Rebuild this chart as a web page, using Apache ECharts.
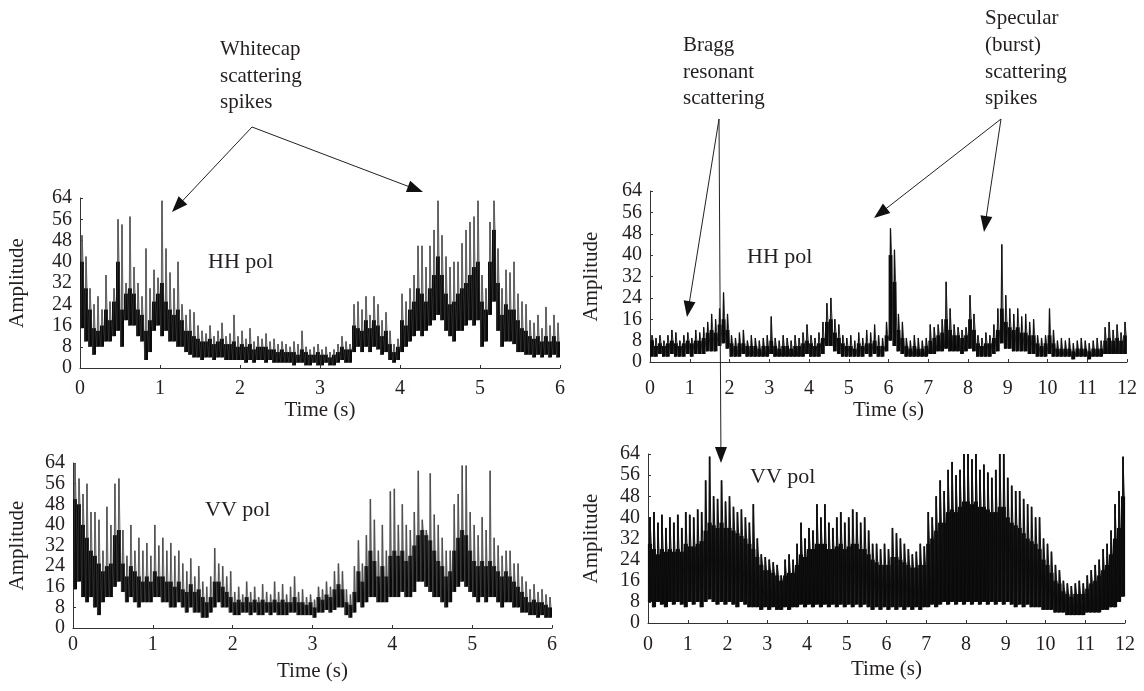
<!DOCTYPE html>
<html><head><meta charset="utf-8">
<script src="https://cdn.jsdelivr.net/npm/echarts@6/dist/echarts.min.js"></script>
<style>html,body{margin:0;padding:0;background:#fff}#c{width:1144px;height:691px}</style>
</head><body><div id="c"></div>
<script>
// ---- data ----
// Left panels: 0..6 s sampled every 0.05 s; right panels: 0..12 s every 0.1 s
const yTicks = [0, 8, 16, 24, 32, 40, 48, 56, 64];
const panelTitles = ['HH pol', 'VV pol', 'HH pol', 'VV pol'];

const hhLeftHi = [50,42,30,24,27,22,35,25,30,56, 54,32,57,38,32,27,45,30,37,34, 63,45,36,30,40,24,20,22,21,16,
  14,13,16,12,14,17,12,13,20,12, 14,11,15,10,12,11,13,10,11,9, 10,9,8,10,9,14,8,7,8,9,
  7,8,6,7,9,12,10,9,24,25, 22,27,20,27,24,18,21,14,9,11, 28,25,30,35,46,46,38,46,52,63,
  50,42,38,40,40,47,52,55,57,63, 35,30,55,63,45,30,37,36,40,28, 25,24,18,17,20,15,23,16,20,17];
const hhLeftCore = [40,30,22,15,14,16,22,18,25,40, 22,28,30,28,22,20,14,18,25,28, 32,25,22,20,22,18,14,14,12,11,
  10,10,11,9,10,11,9,9,10,8, 9,8,9,7,8,8,8,7,7,6, 7,6,6,6,5,7,6,5,5,6,
  5,5,4,5,6,8,7,7,16,15, 14,18,15,18,16,12,14,9,6,8, 18,16,22,25,30,28,25,30,35,42,
  35,28,24,25,28,30,32,35,38,40, 25,22,40,52,32,20,24,22,22,18, 15,14,12,11,12,10,12,10,12,10];
const hhLeftLo = [15,10,8,5,8,8,10,10,12,14, 8,18,16,16,12,10,3,6,14,16, 12,14,10,10,8,8,6,5,4,4,
  3,4,4,3,4,4,3,3,3,3, 3,2,3,2,3,3,2,3,2,2, 2,2,2,1,2,2,1,1,2,1,
  1,2,1,1,2,3,2,2,6,8, 6,8,6,8,7,5,6,3,2,3, 6,8,10,12,14,12,14,16,18,20,
  18,14,12,10,14,14,16,18,16,18, 8,10,20,25,14,8,10,10,9,6, 6,5,5,4,5,4,5,4,5,4];

const vvLeftHi = [64,58,52,56,45,45,42,30,47,40, 56,58,38,28,40,30,35,30,33,28, 40,32,35,30,33,28,30,25,22,27,
  20,24,18,16,20,31,25,24,20,22, 14,16,13,18,14,16,12,17,14,13, 18,14,17,13,16,20,14,15,12,13,
  11,16,15,18,16,22,25,22,15,13, 24,34,25,36,50,42,30,40,30,53, 54,40,48,40,38,45,61,42,38,60,
  44,40,35,30,30,48,52,63,63,45, 40,36,43,38,61,35,32,28,30,30, 25,25,20,18,15,17,14,15,13,12];
const vvLeftCore = [50,48,40,35,30,28,25,22,24,25, 36,38,25,20,24,22,20,18,20,18, 22,20,20,18,18,16,18,15,14,17,
  14,15,12,10,12,18,18,16,14,12, 10,11,10,12,10,11,10,11,10,10, 11,10,11,10,10,12,10,10,9,10,
  8,12,11,13,12,15,17,15,10,9, 14,22,18,24,30,26,20,24,20,28, 30,28,30,26,28,32,36,38,36,34,
  30,26,24,20,22,30,35,38,36,30, 26,24,26,24,26,24,22,20,22,20, 18,16,14,12,10,11,10,10,9,8];
const vvLeftLo = [15,18,12,10,12,8,5,10,12,12, 16,18,14,10,12,10,8,10,10,10, 12,12,10,10,8,8,10,8,6,8,
  6,6,4,4,6,8,10,8,8,6, 5,5,6,6,5,6,5,5,6,5, 6,5,5,5,6,6,5,5,5,5,
  4,6,6,7,6,7,8,8,5,4, 6,10,8,10,12,12,10,10,10,12, 12,12,14,12,12,14,18,18,16,14,
  12,12,10,8,10,14,16,18,16,14, 12,10,12,10,12,12,10,8,10,10, 8,8,6,6,5,5,4,5,4,4];

const hhRightHi = [10,9,10,8,10,12,11,8,10,11, 9,12,11,13,15,18,16,20,26,18, 10,9,11,12,8,10,9,8,9,10,
  17,9,8,10,9,8,10,9,11,14, 10,9,11,15,22,24,16,14,10,9, 10,8,11,9,12,11,14,10,9,15,
  50,42,18,15,9,8,10,9,8,9, 14,13,14,16,30,20,14,13,12,13, 25,18,10,9,11,10,14,20,44,25,
  20,18,20,17,18,15,16,10,9,10, 20,12,8,9,8,9,7,8,9,8, 7,8,9,8,13,15,12,14,11,15];
const hhRightCore = [8,6,7,6,7,8,7,6,7,8, 7,8,8,9,11,12,11,14,16,12, 7,6,7,7,6,6,6,5,6,6,
  8,6,5,6,6,5,6,6,7,8, 7,6,7,9,15,16,11,9,7,6, 6,5,7,6,7,7,8,6,6,10,
  40,30,12,9,6,5,6,5,5,6, 8,9,10,11,16,12,10,10,9,10, 16,12,7,6,7,7,9,12,20,15,
  13,12,13,11,11,10,10,7,6,7, 10,7,5,5,5,5,4,5,5,5, 4,5,5,5,8,9,8,9,8,10];
const hhRightLo = [2,2,3,2,2,3,2,2,2,3, 2,3,3,3,4,4,4,6,7,5, 2,2,2,3,2,2,2,2,2,2,
  3,2,2,2,2,2,2,2,2,3, 2,2,2,3,6,6,4,3,2,2, 2,2,2,2,3,2,3,2,2,4,
  8,6,4,3,2,2,2,2,2,2, 3,3,4,4,5,4,4,4,3,4, 5,4,2,2,2,2,3,4,7,5,
  5,4,4,4,4,3,3,2,2,2, 3,2,2,2,2,2,1,2,2,2, 1,2,2,2,3,3,3,3,3,3];

const vvRightHi = [40,42,38,41,36,40,38,41,36,42, 41,40,43,42,54,63,48,47,54,46, 48,44,42,43,40,38,45,32,26,25,
  24,23,22,18,24,26,24,30,38,32, 36,35,45,40,45,38,36,40,42,38, 40,43,42,38,40,35,30,30,28,30,
  28,36,34,32,30,28,26,27,30,29, 42,40,48,54,50,58,61,56,58,64, 64,62,64,58,60,57,55,58,64,64,
  55,52,50,50,47,45,44,40,40,32, 30,27,22,20,16,15,14,15,16,15, 18,20,22,24,28,30,35,45,50,63];
const vvRightCore = [30,28,26,28,27,28,27,28,27,30, 29,29,30,31,35,38,37,36,38,36, 36,35,34,33,32,30,28,25,22,20,
  20,19,18,16,18,19,19,22,26,25, 28,28,30,30,30,28,28,29,30,28, 29,30,30,28,28,26,24,23,22,22,
  22,25,25,24,23,22,21,21,22,22, 30,32,35,38,38,42,43,42,44,46, 46,45,46,44,44,43,42,42,44,44,
  40,38,37,36,34,32,31,30,28,24, 22,19,16,15,12,11,10,11,11,11, 13,15,16,18,20,22,26,32,36,48];
const vvRightLo = [8,6,8,7,6,8,7,8,7,6, 8,7,8,6,8,9,8,7,8,7, 8,7,6,8,7,6,6,6,5,6,
  5,6,5,5,6,5,6,6,7,6, 7,6,7,6,7,6,7,6,7,6, 7,6,7,6,7,6,5,6,5,6,
  5,6,5,6,5,6,5,6,5,6, 6,7,6,7,8,7,8,7,8,7, 8,7,8,7,8,7,8,7,8,7,
  8,7,6,7,6,7,6,6,6,5, 5,5,4,4,4,3,3,3,3,3, 4,4,4,4,5,5,6,6,8,10];

// ---- helpers ----
const FONT = 'Liberation Serif';
const INK = '#231f20';

// table for the custom series: [time, low, core-top, peak]
function table(lo, core, hi, dt) {
  return lo.map((v, i) => [(i + 0.5) * dt, v, core[i], hi[i]]);
}
// dense trace: each sample is drawn as a vertical stroke (low..peak) plus a denser body (low..core)
function traceSeries(idx, lo, core, hi, dt, opt) {
  return {
    type: 'custom', xAxisIndex: idx, yAxisIndex: idx, silent: true, z: 2,
    data: table(lo, core, hi, dt),
    encode: { x: 0, y: [1, 2, 3] },
    renderItem: function (params, api) {
      const t = api.value(0);
      const pLo = api.coord([t, api.value(1)]);
      const pCore = api.coord([t, api.value(2)]);
      const pHi = api.coord([t, api.value(3)]);
      const w = api.size([dt, 0])[0];
      const bw = w * opt.body;
      return {
        type: 'group',
        children: [
          { type: 'line', shape: { x1: pHi[0], y1: pHi[1], x2: pHi[0], y2: pLo[1] },
            style: { stroke: opt.spikeColor, lineWidth: opt.spikeWidth } },
          { type: 'rect', shape: { x: pLo[0] - bw / 2, y: pCore[1], width: bw, height: pLo[1] - pCore[1] },
            style: { fill: opt.bodyColor, opacity: opt.bodyOpacity } }
        ]
      };
    }
  };
}
// zigzag line through the samples, gives the scribbled look of the trace
function zigzag(lo, core, hi, dt) {
  const d = [];
  for (let i = 0; i < lo.length; i++) {
    const t = i * dt;
    d.push([t + 0.2 * dt, lo[i]]);
    d.push([t + 0.5 * dt, hi[i]]);
    d.push([t + 0.8 * dt, core[i]]);
  }
  return d;
}
function lineSeries(idx, data, color, width, opacity) {
  return {
    type: 'line', xAxisIndex: idx, yAxisIndex: idx, data: data, showSymbol: false, symbol: 'none',
    lineStyle: { color: color, width: width, opacity: opacity }, animation: false, z: 3, silent: true
  };
}

const grids = [
  { left: 80, top: 198, width: 480, height: 170 },
  { left: 73, top: 463, width: 479, height: 165 },
  { left: 650, top: 191, width: 477, height: 171 },
  { left: 648, top: 454, width: 477, height: 169 }
];
const xMax = [6, 6, 12, 12];
const xLabelMargin = [11, 7, 17, 12];
const xNameGap = [27, 33, 34, 36];
const yNameGap = [52, 45, 48, 46];

const xAxes = grids.map((g, k) => ({
  type: 'value', gridIndex: k, min: 0, max: xMax[k], interval: 1,
  axisLine: { show: true, onZero: false, lineStyle: { color: '#333', width: 1 } },
  axisTick: { show: true, inside: true, length: 3, lineStyle: { color: '#333' } },
  splitLine: { show: false },
  axisLabel: { fontFamily: FONT, fontSize: 20, color: INK, margin: xLabelMargin[k] },
  name: 'Time (s)', nameLocation: 'middle', nameGap: xNameGap[k],
  nameTextStyle: { fontFamily: FONT, fontSize: 21, color: INK }
}));
const yAxes = grids.map((g, k) => ({
  type: 'value', gridIndex: k, min: yTicks[0], max: yTicks[yTicks.length - 1], interval: yTicks[1] - yTicks[0],
  axisLine: { show: true, onZero: false, lineStyle: { color: '#333', width: 1 } },
  axisTick: { show: true, inside: true, length: 3, lineStyle: { color: '#333' } },
  splitLine: { show: false },
  axisLabel: { fontFamily: FONT, fontSize: 20, color: INK, margin: 8 },
  name: 'Amplitude', nameLocation: 'middle', nameGap: yNameGap[k], nameRotate: 90,
  nameTextStyle: { fontFamily: FONT, fontSize: 21, color: INK }
}));

const leftOpt = { body: 1.0, bodyColor: '#0a0a0a', bodyOpacity: 1, spikeColor: '#6a6a6a', spikeWidth: 1.6 };
const rightTopOpt = { body: 0.95, bodyColor: '#0a0a0a', bodyOpacity: 1, spikeColor: '#111', spikeWidth: 1.3 };
const rightBotOpt = { body: 1.05, bodyColor: '#0a0a0a', bodyOpacity: 1, spikeColor: '#111', spikeWidth: 1.8 };

const series = [
  traceSeries(0, hhLeftLo, hhLeftCore, hhLeftHi, 0.05, leftOpt),
  lineSeries(0, zigzag(hhLeftLo, hhLeftCore, hhLeftHi, 0.05), '#444', 0.7, 0.8),
  traceSeries(1, vvLeftLo, vvLeftCore, vvLeftHi, 0.05, leftOpt),
  lineSeries(1, zigzag(vvLeftLo, vvLeftCore, vvLeftHi, 0.05), '#444', 0.7, 0.8),
  traceSeries(2, hhRightLo, hhRightCore, hhRightHi, 0.1, rightTopOpt),
  lineSeries(2, zigzag(hhRightLo, hhRightCore, hhRightHi, 0.1), '#111', 0.8, 1),
  traceSeries(3, vvRightLo, vvRightCore, vvRightHi, 0.1, rightBotOpt),
  lineSeries(3, zigzag(vvRightLo, vvRightCore, vvRightHi, 0.1), '#111', 1, 1)
];

// ---- annotations ----
function arrow(ax, ay, tx, ty) {
  const dx = tx - ax, dy = ty - ay, L = Math.hypot(dx, dy);
  const ux = dx / L, uy = dy / L, hl = 16, hw = 6;
  const bx = tx - ux * hl, by = ty - uy * hl;
  return [
    { type: 'line', z: 100, shape: { x1: ax, y1: ay, x2: bx + ux * 2, y2: by + uy * 2 }, style: { stroke: '#222', lineWidth: 1 } },
    { type: 'polygon', z: 100, shape: { points: [[tx, ty], [bx - uy * hw, by + ux * hw], [bx + uy * hw, by - ux * hw]] }, style: { fill: '#111' } }
  ];
}
function txt(x, y, s, size) {
  return { type: 'text', z: 100, x: x, y: y,
    style: { text: s, fontFamily: FONT, fontSize: size || 21, fill: INK, verticalAlign: 'middle', align: 'left' } };
}
const graphics = [
  txt(208, 262, panelTitles[0], 22), txt(205, 510, panelTitles[1], 22),
  txt(747, 257, panelTitles[2], 22), txt(750, 477, panelTitles[3], 22),
  txt(220, 49, 'Whitecap'), txt(220, 76, 'scattering'), txt(220, 102, 'spikes'),
  txt(683, 45, 'Bragg'), txt(683, 72, 'resonant'), txt(683, 98, 'scattering'),
  txt(985, 18, 'Specular'), txt(985, 45, '(burst)'), txt(985, 72, 'scattering'), txt(985, 98, 'spikes')
].concat(
  arrow(252, 127, 172, 212), arrow(252, 127, 423, 192),
  arrow(719, 119, 687, 317), arrow(719, 119, 721, 463),
  arrow(1001, 119, 874, 218), arrow(1001, 119, 984, 232)
);

const chart = echarts.init(document.getElementById('c'), null, { renderer: 'canvas' });
chart.setOption({
  backgroundColor: '#fff', animation: false,
  grid: grids, xAxis: xAxes, yAxis: yAxes, series: series, graphic: graphics
});
</script></body></html>
